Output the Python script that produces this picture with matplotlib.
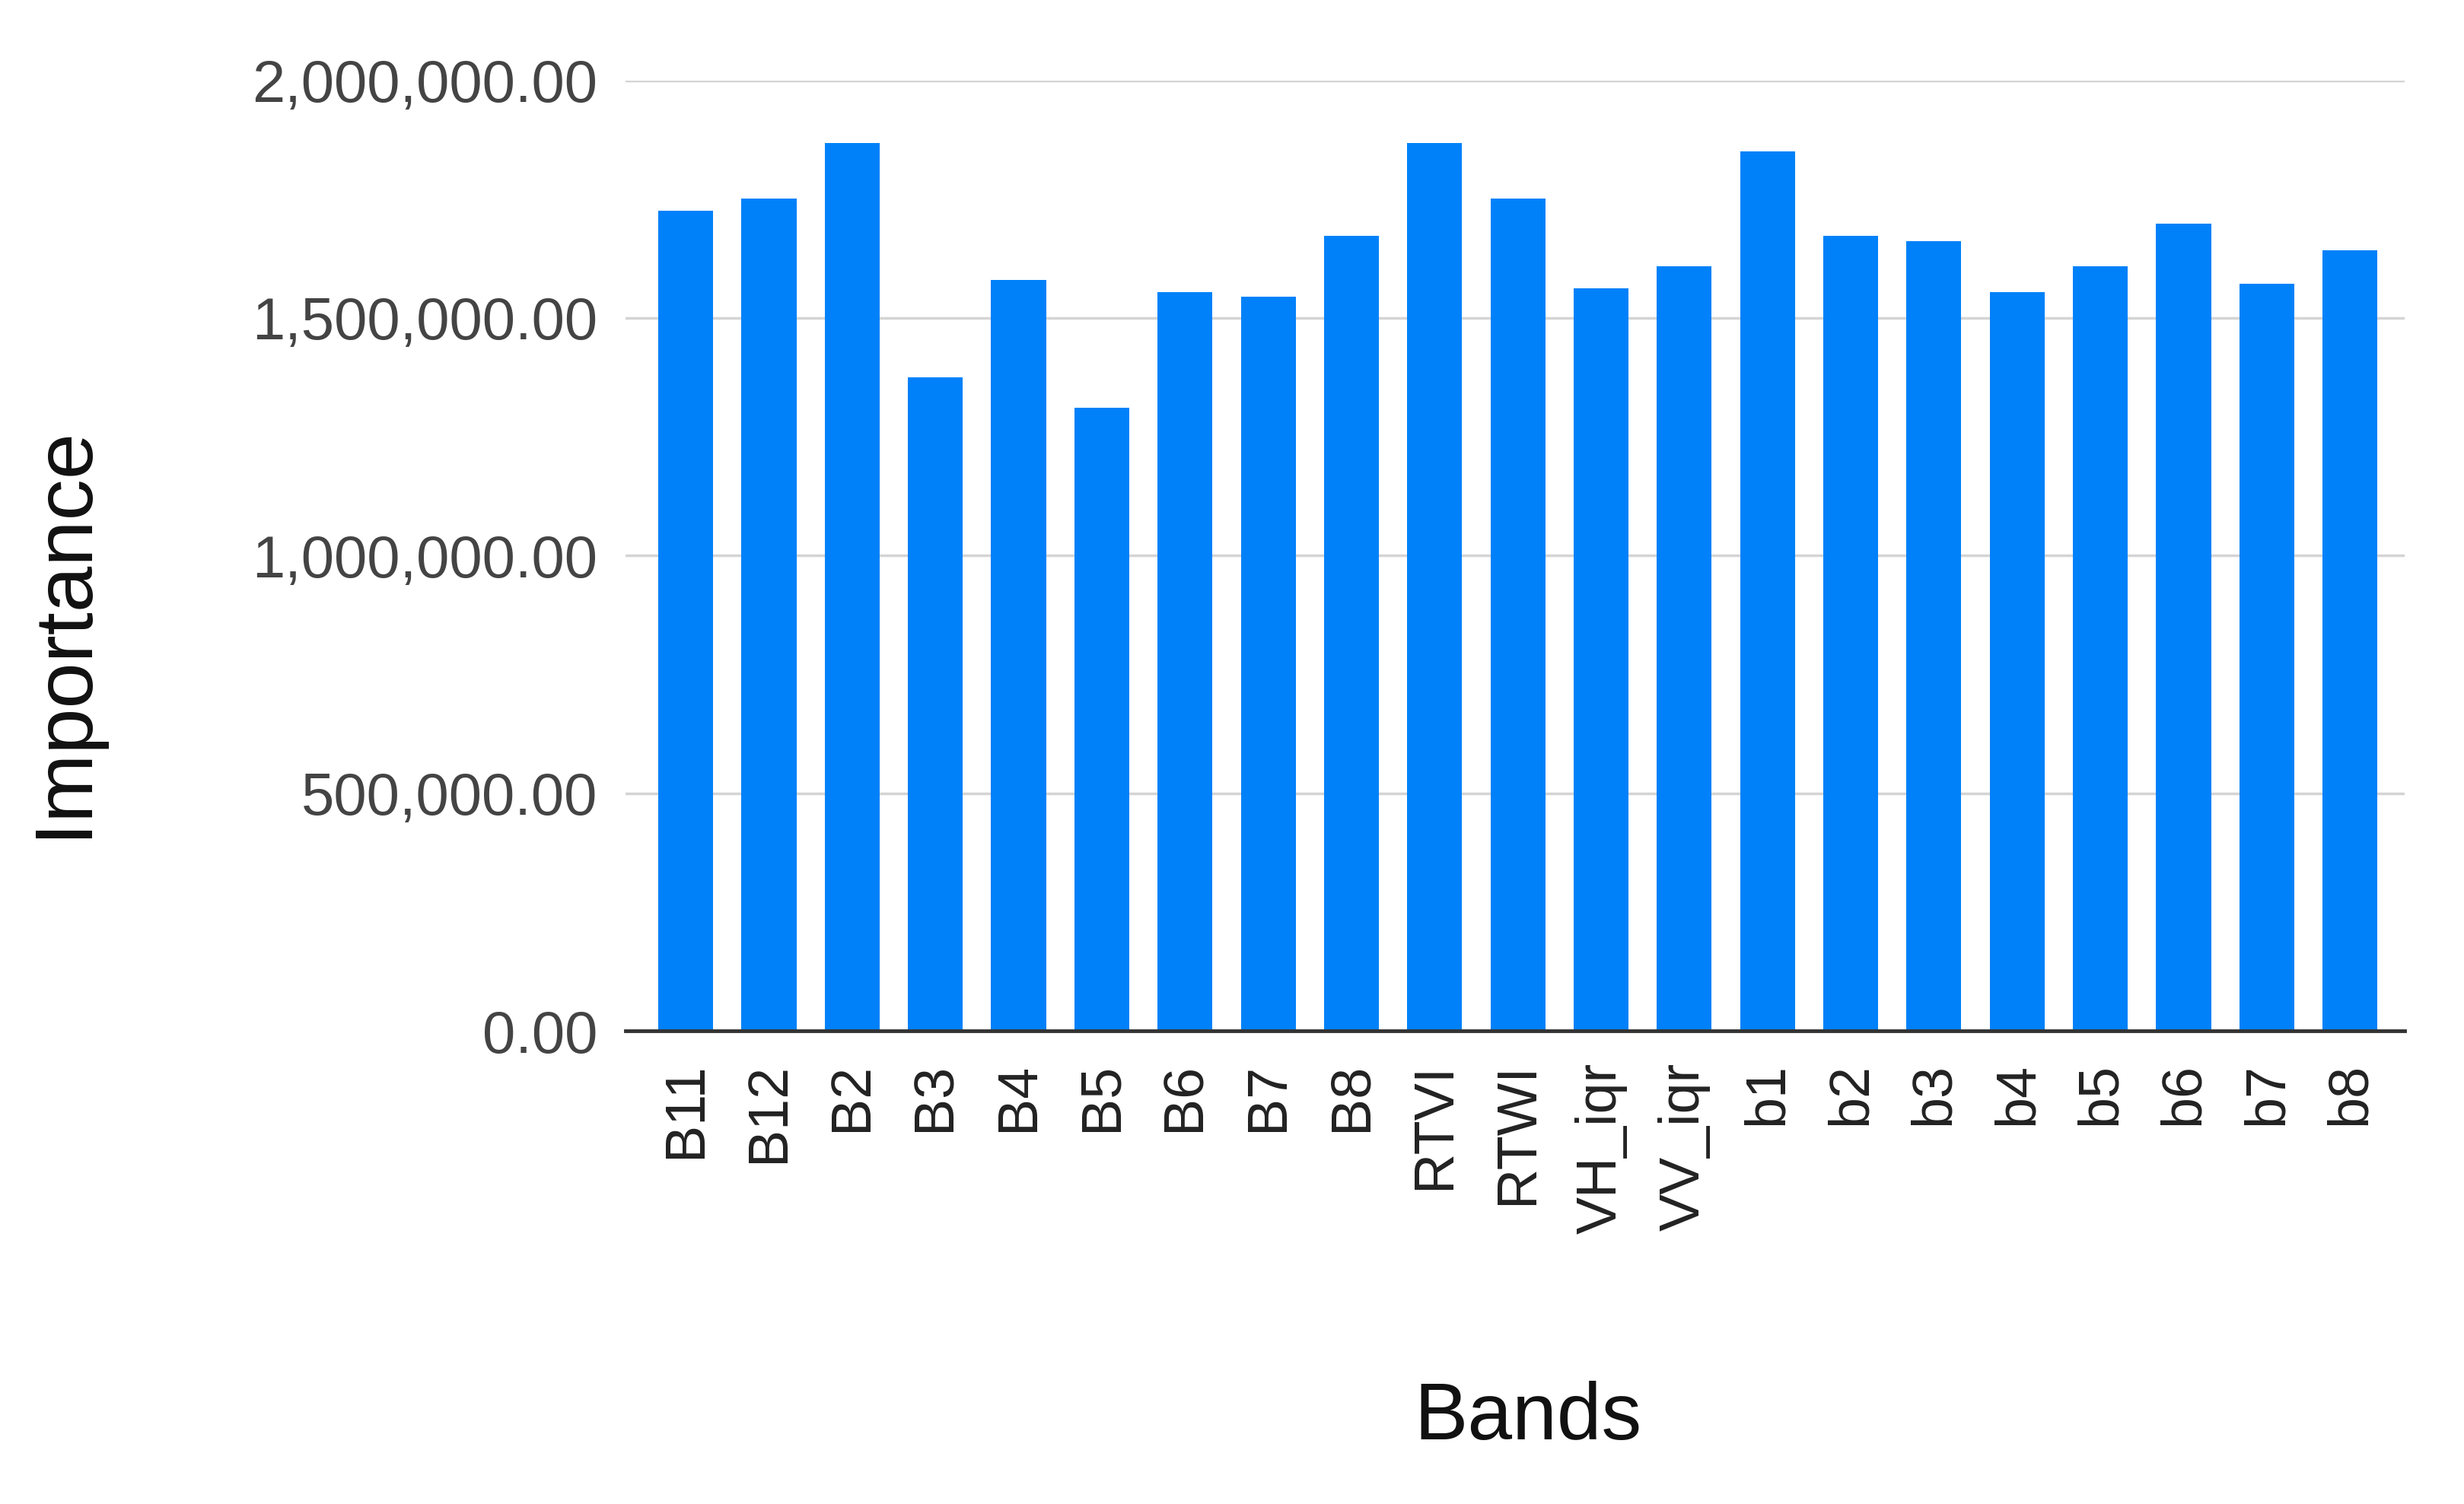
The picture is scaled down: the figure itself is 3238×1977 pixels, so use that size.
import matplotlib
matplotlib.use('Agg')
import matplotlib.pyplot as plt
from matplotlib.ticker import FuncFormatter, MultipleLocator

plt.rcParams['font.family'] = ['Liberation Sans', 'DejaVu Sans']

# band importance values
bands = ['B11', 'B12', 'B2', 'B3', 'B4', 'B5', 'B6', 'B7', 'B8', 'RTVI', 'RTWI',
         'VH_iqr', 'VV_iqr', 'b1', 'b2', 'b3', 'b4', 'b5', 'b6', 'b7', 'b8']
importance = [1725000, 1751000, 1868000, 1375000, 1580000, 1311000, 1555000,
              1545000, 1672000, 1868000, 1751000, 1562000, 1608000, 1850000,
              1672000, 1661000, 1555000, 1608000, 1698000, 1572000, 1643000]

fig = plt.figure(figsize=(32.38, 19.77), dpi=100)
ax = fig.add_axes([0.254, 0.3146, 0.722, 0.632])

x = range(len(bands))
ax.bar(x, importance, width=0.66, color='#0081f9', zorder=3)

ax.set_xlim(-0.72, len(bands) - 0.34)
ax.set_ylim(0, 2000000)
ax.yaxis.set_major_locator(MultipleLocator(500000))
ax.yaxis.set_major_formatter(FuncFormatter(lambda v, p: '{:,.2f}'.format(v)))
ax.grid(axis='y', color='#d4d4d4', linewidth=2.5, zorder=0)

ax.set_xticks(list(x))
ax.set_xticklabels(bands, rotation=90)
ax.tick_params(axis='x', length=0, pad=30, labelsize=53, labelcolor='#222222')
ax.tick_params(axis='y', length=0, pad=27, labelsize=56, labelcolor='#444444')

for s in ['top', 'right', 'left']:
    ax.spines[s].set_visible(False)
ax.spines['bottom'].set_color('#333333')
ax.spines['bottom'].set_linewidth(3.5)
ax.spines['bottom'].set_zorder(4)

fig.text(0.026, 0.58, 'Importance', rotation=90, ha='center', va='center',
         fontsize=78, color='#111111')
fig.text(0.62, 0.057, 'Bands', ha='center', va='center', fontsize=76,
         color='#111111')

fig.savefig('out.png', dpi=100, facecolor='white')
